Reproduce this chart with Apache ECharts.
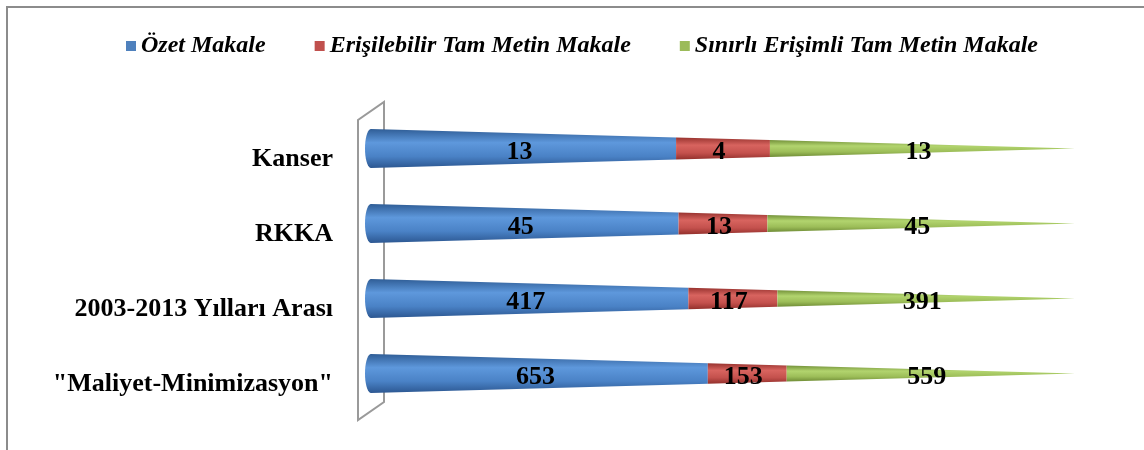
<!DOCTYPE html>
<html>
<head>
    <meta charset="utf-8">
    <title>Makale dağılımı</title>
    <script src="https://cdn.jsdelivr.net/npm/echarts@6/dist/echarts.min.js"></script>
</head>
<body style="margin:0;background:#fff">
    <div id="main" style="width: 1144px;height:450px;"></div>
    <script>
        // veriler
        var categories = ['Kanser', 'RKKA', '2003-2013 Yılları Arası', '"Maliyet-Minimizasyon"'];
        var ozet = [13, 45, 417, 653];
        var erisilebilir = [4, 13, 117, 153];
        var sinirli = [13, 45, 391, 559];
        var seriesNames = ['Özet Makale', 'Erişilebilir Tam Metin Makale', 'Sınırlı Erişimli Tam Metin Makale'];
        var colors = ['#4F81BD', '#C0504D', '#9BBB59'];
        var shades = [
            ['#2f5d96', '#5e98dc', '#4a82c6', '#2c5791'],
            ['#98332f', '#d8645f', '#c4514d', '#93302c'],
            ['#74923a', '#b2d46e', '#9cbd58', '#6f8c36']
        ];

        // %100 yığılmış koni verisi: [başlangıç, bitiş, kategori, değer]
        function buildData(k) {
            var all = [ozet, erisilebilir, sinirli];
            return categories.map(function (c, i) {
                var total = ozet[i] + erisilebilir[i] + sinirli[i];
                var start = 0;
                for (var j = 0; j < k; j++) start += all[j][i];
                return [start / total, (start + all[k][i]) / total, i, all[k][i]];
            });
        }

        function makeRender(k) {
            return function (params, api) {
                var s = api.value(0), e = api.value(1), ci = api.value(2);
                var p0 = api.coord([s, ci]);
                var p1 = api.coord([e, ci]);
                var cy = p0[1];
                var half = api.size([0, 1])[1] * 0.26;
                var h0 = half * (1 - s), h1 = half * (1 - e);
                var pts = [];
                if (s === 0) {
                    // taban elipsi (sol kenar)
                    for (var t = -90; t <= 90; t += 10) {
                        var a = t * Math.PI / 180;
                        pts.push([p0[0] - 6 * Math.cos(a), cy + h0 * Math.sin(a)]);
                    }
                } else {
                    pts.push([p0[0], cy - h0]);
                    pts.push([p0[0], cy + h0]);
                }
                pts.push([p1[0], cy + h1]);
                pts.push([p1[0], cy - h1]);
                var sh = shades[k];
                return {
                    type: 'group',
                    children: [{
                        type: 'polygon',
                        shape: { points: pts },
                        style: {
                            fill: new echarts.graphic.LinearGradient(0, 0, 0, 1, [
                                { offset: 0, color: sh[0] },
                                { offset: 0.35, color: sh[1] },
                                { offset: 0.7, color: sh[2] },
                                { offset: 1, color: sh[3] }
                            ])
                        }
                    }, {
                        type: 'text',
                        z2: 100,
                        style: {
                            text: String(api.value(3)),
                            x: (p0[0] + p1[0]) / 2 - 4,
                            y: cy + 4,
                            align: 'center',
                            verticalAlign: 'middle',
                            font: 'bold 26px "Liberation Serif", "Times New Roman", serif',
                            fill: '#000'
                        }
                    }]
                };
            };
        }

        var myChart = echarts.init(document.getElementById('main'));

        var option = {
            backgroundColor: '#fff',
            animation: false,
            legend: {
                data: seriesNames,
                left: 121,
                top: 29,
                icon: 'rect',
                itemWidth: 10,
                itemHeight: 10,
                itemGap: 49,
                textStyle: {
                    fontFamily: '"Liberation Serif", "Times New Roman", serif',
                    fontStyle: 'italic',
                    fontWeight: 'bold',
                    fontSize: 24,
                    color: '#000'
                }
            },
            grid: { left: 371, right: 69, top: 111, bottom: 39, containLabel: false },
            xAxis: {
                type: 'value', min: 0, max: 1,
                show: false
            },
            yAxis: {
                type: 'category',
                data: categories,
                inverse: true,
                axisLine: { show: false },
                axisTick: { show: false },
                axisLabel: {
                    margin: 38,
                    verticalAlign: 'top',
                    lineHeight: 22,
                    fontFamily: '"Liberation Serif", "Times New Roman", serif',
                    fontWeight: 'bold',
                    fontSize: 26,
                    color: '#000'
                }
            },
            graphic: [{
                type: 'polyline',
                z: 0,
                shape: { points: [[7, 450], [7, 7], [1144, 7]] },
                style: { stroke: '#8c8c8c', lineWidth: 2, fill: null }
            }, {
                type: 'polygon',
                z: 0,
                shape: { points: [[358, 420], [358, 120], [384, 102], [384, 402]] },
                style: { stroke: '#9a9a9a', lineWidth: 2, fill: null }
            }],
            series: seriesNames.map(function (name, k) {
                return {
                    name: name,
                    type: 'custom',
                    renderItem: makeRender(k),
                    itemStyle: { color: colors[k] },
                    encode: { x: [0, 1], y: 2 },
                    data: buildData(k)
                };
            })
        };

        myChart.setOption(option);
    </script>
</body>
</html>
